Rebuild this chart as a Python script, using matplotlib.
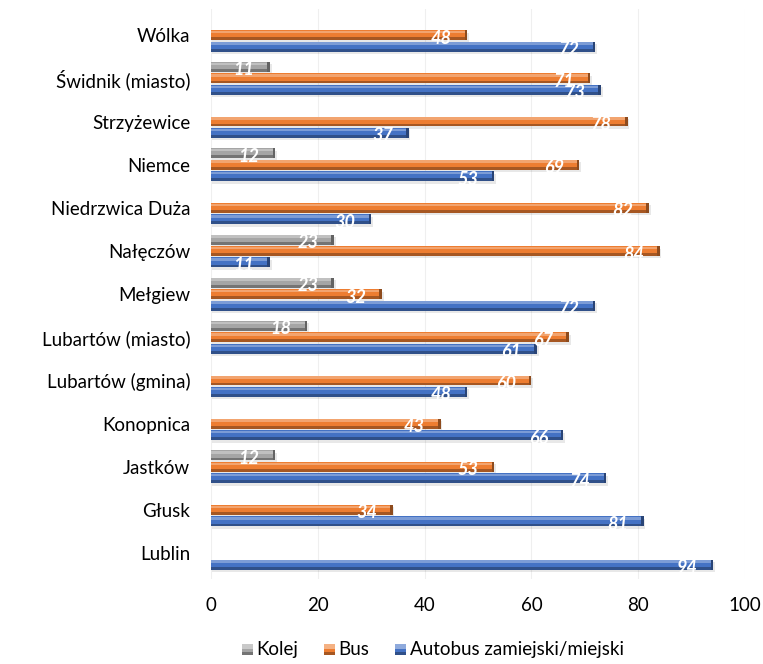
import numpy as np
import matplotlib.pyplot as plt
import matplotlib.colors as mcolors
from matplotlib.patches import Rectangle
from matplotlib.legend_handler import HandlerBase

plt.rcParams['font.family'] = ['Lato', 'DejaVu Sans']

places = ['Wólka', 'Świdnik (miasto)', 'Strzyżewice', 'Niemce', 'Niedrzwica Duża',
          'Nałęczów', 'Mełgiew', 'Lubartów (miasto)', 'Lubartów (gmina)', 'Konopnica',
          'Jastków', 'Głusk', 'Lublin']
kolej = [0, 11, 0, 12, 0, 23, 23, 18, 0, 0, 12, 0, 0]
bus = [48, 71, 78, 69, 82, 84, 32, 67, 60, 43, 53, 34, 0]
autobus = [72, 73, 37, 53, 30, 11, 72, 61, 48, 66, 74, 81, 94]

series = [('Kolej', kolej, '#a5a5a5'),
          ('Bus', bus, '#ed7d31'),
          ('Autobus zamiejski/miejski', autobus, '#4472c4')]


def shade(c, f):
    r = np.array(mcolors.to_rgb(c))
    if f > 0:
        r = r + (1 - r) * f
    else:
        r = r * (1 + f)
    return tuple(np.clip(r, 0, 1))


def bevel_bar(ax, y, w, h, c):
    if w <= 0:
        return
    # soft shadow below
    ax.barh(y + h * 0.25, w + 0.25, height=h, left=0.1, color='black', alpha=0.09,
            linewidth=0, zorder=2)
    ax.barh(y, w, height=h, color=c, linewidth=0, zorder=3)
    ax.barh(y - h * 0.3, w - 0.4, height=h * 0.25, color=shade(c, 0.3),
            linewidth=0, zorder=4)
    ax.barh(y + h * 0.36, w, height=h * 0.28, color=shade(c, -0.3),
            linewidth=0, zorder=4)
    ax.barh(y, 0.45, height=h, left=w - 0.45, color=shade(c, -0.4),
            linewidth=0, zorder=5)


fig = plt.figure(figsize=(7.63, 6.64), dpi=100)
ax = fig.add_axes([0.2765, 0.128, 0.6999, 0.858])

y = np.arange(len(places))
h = 0.23
offs = [-0.265, 0, 0.265]
for (name, vals, col), off in zip(series, offs):
    for yi, v in zip(y, vals):
        if v > 0:
            bevel_bar(ax, yi + off, v, h, col)
            ax.text(v - 2.9, yi + off + 0.07, str(v), ha='right', va='center',
                    color='white', fontsize=13, fontweight='bold', style='italic',
                    zorder=6)

ax.set_xlim(0, 100)
ax.set_ylim(12.6, -0.6)
ax.set_xticks([0, 20, 40, 60, 80, 100])
ax.set_yticks(y)
ax.set_yticklabels(places, fontsize=13.5)
ax.tick_params(axis='x', labelsize=13.5, length=0, pad=13)
ax.tick_params(axis='y', length=0, pad=15)
ax.grid(axis='x', color='#efefef', linewidth=0.8, zorder=0)
for s in ax.spines.values():
    s.set_visible(False)


class BevelHandler(HandlerBase):
    def create_artists(self, legend, orig, xd, yd, width, height, fontsize, trans):
        c = orig.get_facecolor()
        s = height * 0.8
        x0 = xd + width - s
        y0 = yd + (height - s) / 2 - 1
        r1 = Rectangle((x0, y0), s, s, facecolor=c, edgecolor='none', transform=trans)
        r2 = Rectangle((x0, y0 + s * 0.6), s, s * 0.4, facecolor=shade(c, 0.4),
                       edgecolor='none', transform=trans)
        r3 = Rectangle((x0, y0), s, s * 0.3, facecolor=shade(c, -0.3),
                       edgecolor='none', transform=trans)
        return [r1, r2, r3]


handles = [Rectangle((0, 0), 1, 1, facecolor=col) for _, _, col in series]
fig.legend(handles, [n for n, _, _ in series], loc='lower center',
           bbox_to_anchor=(0.565, -0.016), ncol=3, frameon=False, fontsize=13.5,
           handler_map={Rectangle: BevelHandler()}, handlelength=0.75,
           handletextpad=0.2, columnspacing=1.2)

fig.savefig('out.png', dpi=100)
